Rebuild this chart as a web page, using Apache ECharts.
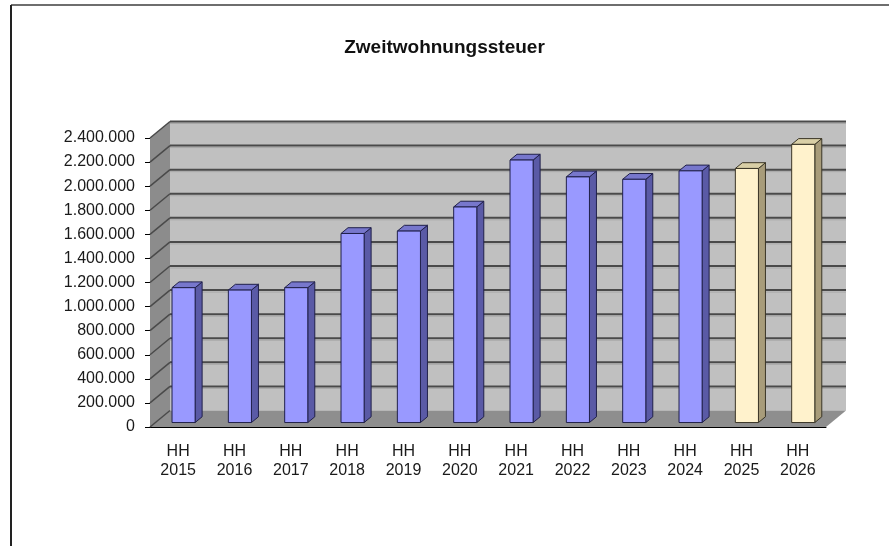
<!DOCTYPE html>
<html>
<head>
<meta charset="utf-8">
<script src="https://cdn.jsdelivr.net/npm/echarts@6/dist/echarts.min.js"></script>
<style>
html, body { margin: 0; padding: 0; background: #fff; }
#chart { width: 889px; height: 546px; }
</style>
</head>
<body>
<div id="chart"></div>
<script>
var jahre = ['2015', '2016', '2017', '2018', '2019', '2020', '2021', '2022', '2023', '2024', '2025', '2026'];
// Ist-Werte (blau) und Planwerte (gelb)
var istWerte = [1120000, 1100000, 1120000, 1570000, 1590000, 1790000, 2180000, 2040000, 2020000, 2090000, null, null];
var planWerte = [null, null, null, null, null, null, null, null, null, null, 2110000, 2310000];
var achsenWerte = [0, 200000, 400000, 600000, 800000, 1000000, 1200000, 1400000, 1600000, 1800000, 2000000, 2200000, 2400000];

var tiefe = [20, -16.5];   // 3D-Versatz nach hinten

function tausender(v) {
    return String(v).replace(/\B(?=(\d{3})+(?!\d))/g, '.');
}

function punkte(werte) {
    var out = [];
    werte.forEach(function (w, i) {
        if (w !== null) out.push([i, w]);
    });
    return out;
}

function renderWaende(params, api) {
    var cs = params.coordSys;
    var dx = tiefe[0], dy = tiefe[1];
    var x0 = cs.x, x1 = cs.x + cs.width, yTop = cs.y, yBase = cs.y + cs.height;
    var kinder = [
        {type: 'rect', shape: {x: x0 + dx, y: yTop + dy, width: cs.width, height: cs.height}, style: {fill: '#c0c0c0'}},
        {type: 'polygon', shape: {points: [[x0, yBase], [x0, yTop], [x0 + dx, yTop + dy], [x0 + dx, yBase + dy]]}, style: {fill: '#8c8c8c'}},
        {type: 'polygon', shape: {points: [[x0, yBase], [x1, yBase], [x1 + dx, yBase + dy], [x0 + dx, yBase + dy]]}, style: {fill: '#8e8e8e'}}
    ];
    achsenWerte.forEach(function (v) {
        var y = api.coord([0, v])[1];
        if (v > 0) {
            kinder.push({type: 'line', shape: {x1: x0 + dx, y1: y + dy, x2: x1 + dx, y2: y + dy},
                style: {stroke: '#4a4a4a', lineWidth: 2}});
            kinder.push({type: 'line', shape: {x1: x0 + dx, y1: y + dy + 2, x2: x1 + dx, y2: y + dy + 2},
                style: {stroke: '#a8a8a8', lineWidth: 1}});
        }
        kinder.push({type: 'line', shape: {x1: x0, y1: y, x2: x0 + dx, y2: y + dy},
            style: {stroke: '#4a4a4a', lineWidth: 1.5}});
    });
    return {type: 'group', children: kinder};
}

function balken(farben) {
    return function (params, api) {
        var dx = tiefe[0], dy = tiefe[1];
        var oben = api.coord([api.value(0), api.value(1)]);
        var unten = api.coord([api.value(0), 0]);
        var b = api.size([1, 0])[0] * 0.41;
        var t0 = 0.27, t1 = 0.62;
        var fx = oben[0] - b / 2 + t0 * dx;
        var fyTop = oben[1] + t0 * dy, fyBase = unten[1] + t0 * dy;
        var ox = (t1 - t0) * dx, oy = (t1 - t0) * dy;
        var rand = {stroke: farben.rand, lineWidth: 1};
        return {
            type: 'group',
            children: [
                {type: 'polygon', shape: {points: [[fx + b, fyBase], [fx + b, fyTop], [fx + b + ox, fyTop + oy], [fx + b + ox, fyBase + oy]]},
                    style: Object.assign({fill: farben.seite}, rand)},
                {type: 'polygon', shape: {points: [[fx, fyTop], [fx + b, fyTop], [fx + b + ox, fyTop + oy], [fx + ox, fyTop + oy]]},
                    style: Object.assign({fill: farben.deckel}, rand)},
                {type: 'rect', shape: {x: fx, y: fyTop, width: b, height: fyBase - fyTop},
                    style: Object.assign({fill: farben.front}, rand)}
            ]
        };
    };
}

var chart = echarts.init(document.getElementById('chart'));

var option = {
    backgroundColor: '#ffffff',
    animation: false,
    title: {
        text: 'Zweitwohnungssteuer',
        left: 'center',
        top: 33,
        textStyle: {fontFamily: 'Liberation Sans', fontSize: 19, fontWeight: 'bold', color: '#111'}
    },
    graphic: [
        {type: 'line', shape: {x1: 11, y1: 5, x2: 889, y2: 5}, style: {stroke: '#6e6e6e', lineWidth: 2}},
        {type: 'line', shape: {x1: 11, y1: 5, x2: 11, y2: 546}, style: {stroke: '#222', lineWidth: 2}}
    ],
    grid: {left: 150, right: 63, top: 138, bottom: 119},
    xAxis: {
        type: 'category',
        data: jahre,
        axisLine: {lineStyle: {color: '#000', width: 1}},
        axisTick: {interval: 0, length: 6, lineStyle: {color: '#000'}},
        axisLabel: {
            interval: 0,
            margin: 15,
            fontFamily: 'Liberation Sans',
            fontSize: 16,
            lineHeight: 19,
            color: '#1a1a1a',
            formatter: function (v) { return 'HH\n' + v; }
        },
        splitLine: {show: false}
    },
    yAxis: {
        type: 'value',
        min: 0,
        max: 2400000,
        interval: 200000,
        axisLine: {show: true, lineStyle: {color: '#333'}},
        axisTick: {show: true, length: 5, lineStyle: {color: '#000'}},
        axisLabel: {
            margin: 15,
            fontFamily: 'Liberation Sans',
            fontSize: 16,
            color: '#1a1a1a',
            formatter: tausender
        },
        splitLine: {show: false}
    },
    series: [
        {
            type: 'custom',
            name: 'Wände',
            z: 1,
            data: [[0, 0]],
            renderItem: renderWaende,
            silent: true
        },
        {
            type: 'custom',
            name: 'Ist',
            z: 3,
            data: punkte(istWerte),
            encode: {x: 0, y: 1},
            renderItem: balken({front: '#9999ff', seite: '#5a5aa6', deckel: '#7777cc', rand: '#20204a'})
        },
        {
            type: 'custom',
            name: 'Plan',
            z: 3,
            data: punkte(planWerte),
            encode: {x: 0, y: 1},
            renderItem: balken({front: '#fff2cc', seite: '#a89c7a', deckel: '#d9cfa6', rand: '#3a3526'})
        }
    ]
};

chart.setOption(option);
</script>
</body>
</html>
